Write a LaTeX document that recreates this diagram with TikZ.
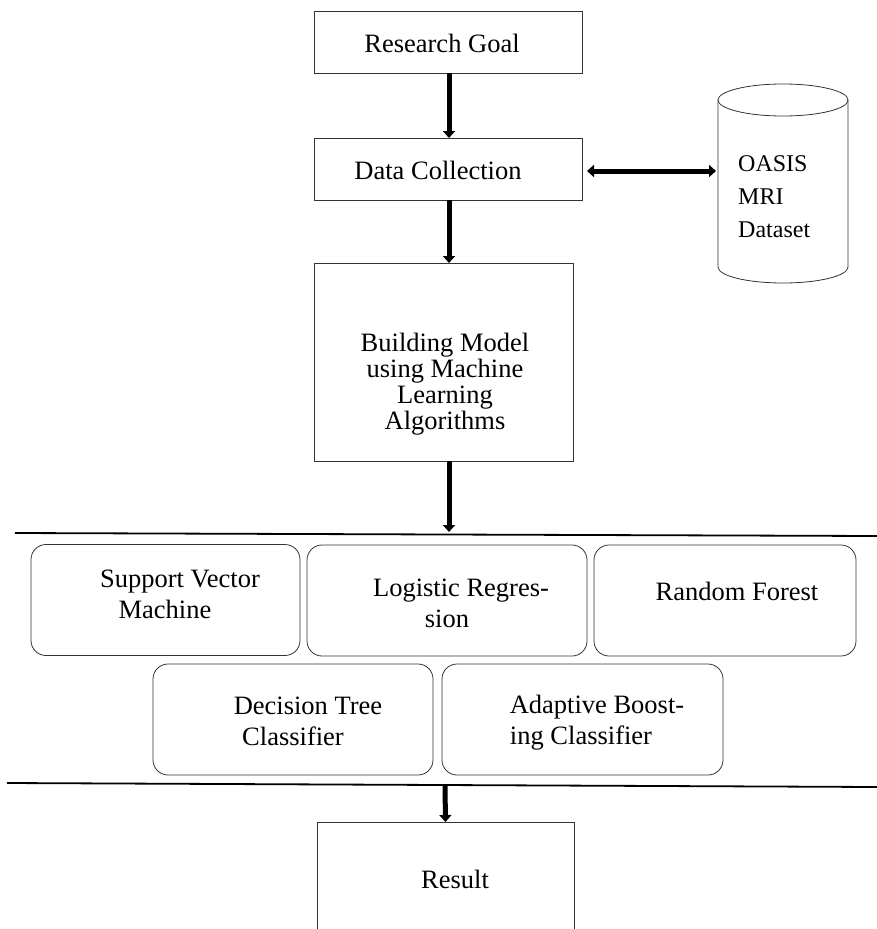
\documentclass[tikz,border=0pt]{standalone}
\usepackage{fontspec}
\setmainfont{Liberation Serif}
\usetikzlibrary{arrows.meta,calc}
\begin{document}
\begin{tikzpicture}[x=1pt,y=-1pt,
  sqbox/.style={draw=black!80, line width=0.8pt, inner sep=0pt, outer sep=0pt},
  rbox/.style={draw=black!80, line width=0.8pt, rounded corners=15pt, inner sep=0pt, outer sep=0pt, minimum height=111pt},
  txt/.style={font=\fontsize{26.5}{31}\selectfont, align=center, inner sep=0pt},
  bmtxt/.style={font=\fontsize{26.5}{26}\selectfont, align=center, inner sep=0pt},
  dbtxt/.style={font=\fontsize{24}{33}\selectfont, align=left, inner sep=0pt, anchor=west},
  arr/.style={line width=5pt, -{Triangle[width=12pt,length=7pt]}},
  darr/.style={line width=5pt, {Triangle[width=12pt,length=7pt]}-{Triangle[width=12pt,length=7pt]}},
  sepline/.style={line width=1.8pt}
]
\useasboundingbox (0,0) rectangle (877,929);

% top boxes
\node[sqbox, minimum width=268pt, minimum height=62pt] (rg) at (448,42) {};
\node[txt] (rgt) at (442,43) {Research Goal};
\node[sqbox, minimum width=268pt, minimum height=62pt] (dc) at (448,169) {};
\node[txt] (dct) at (438,170) {Data Collection};
\node[sqbox, minimum width=259pt, minimum height=198pt] (bm) at (443.5,362) {};
\node[bmtxt] (bmt) at (445,384) {Building Model\\using Machine\\Learning\\Algorithms};

% cylinder
\draw[draw=black!80, line width=0.8pt] (718,100) -- (718,267)
  arc[start angle=180, end angle=360, x radius=65pt, y radius=16pt] -- (848,100);
\draw[draw=black!80, line width=0.8pt] (783,100) ellipse [x radius=65pt, y radius=16pt];
\node[dbtxt] (db) at (738,197) {OASIS\\MRI\\Dataset};
\coordinate (dbw) at (716,171);
\coordinate (dce) at (587,171);

% axis for arrows
\coordinate (ax) at (449,0);

% separators
\coordinate (s1a) at (15,533);
\coordinate (s1b) at (877,536);
\coordinate (s2a) at (7,783);
\coordinate (s2b) at (877,787);
\draw[sepline] (s1a) -- (s1b);
\draw[sepline] (s2a) -- (s2b);
\coordinate (h1) at (449,532);
\coordinate (h2) at (445,786);

% algorithm boxes
\node[rbox, minimum width=269pt] (svm) at (165.5,600) {};
\node[txt] (svmt) at (165,594) {\hspace*{30pt}Support Vector\\Machine};
\node[rbox, minimum width=280pt] (lr) at (447,600.5) {};
\node[txt] (lrt) at (447,603) {\hspace*{28pt}Logistic Regres-\\sion};
\node[rbox, minimum width=262pt] (rf) at (725,600.5) {};
\node[txt] (rft) at (737,591) {Random Forest};
\node[rbox, minimum width=280pt] (dt) at (293,719.5) {};
\node[txt] (dtt) at (293,721) {\hspace*{30pt}Decision Tree\\Classifier};
\node[rbox, minimum width=281pt] (ab) at (582.5,719.5) {};
\node[txt] (abt) at (581,723) {\hspace*{32pt}Adaptive Boost-\\ing Classifier};

% result box (cut at the bottom)
\begin{scope}
\clip (0,0) rectangle (877,929);
\node[sqbox, minimum width=257pt, minimum height=116pt] (res) at (445.5,880) {};
\end{scope}
\node[txt] (rest) at (455,879) {Result};

% connectors
\draw[arr] (rg.south -| ax) -- (dc.north -| ax);
\draw[arr] (dc.south -| ax) -- (bm.north -| ax);
\draw[arr] (bm.south -| ax) -- (h1);
\draw[arr] (h2) -- (res.north);
\draw[darr] (dce) -- (dbw);
\end{tikzpicture}
\end{document}
